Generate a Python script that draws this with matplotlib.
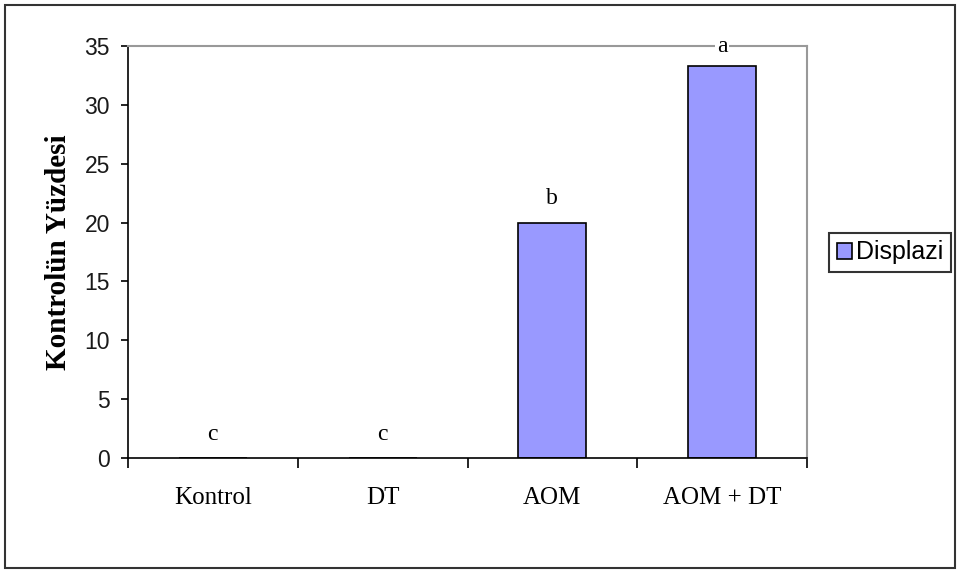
import matplotlib
matplotlib.use("Agg")
import matplotlib.pyplot as plt
from matplotlib.patches import Rectangle

categories = ["Kontrol", "DT", "AOM", "AOM + DT"]
values = [0, 0, 20, 33.3]
letters = ["c", "c", "b", "a"]
series_name = "Displazi"
yticks = [0, 5, 10, 15, 20, 25, 30, 35]

fig = plt.figure(figsize=(9.61, 5.74), dpi=100)
fig.patches.append(Rectangle((5/961, 1-568/574), 950/961, 563/574, transform=fig.transFigure,
                             fill=False, edgecolor="#333333", linewidth=1.5))
ax = fig.add_axes([128/961, 1-458/574, 679/961, 412/574])

x = list(range(len(categories)))
bars = ax.bar(x, values, width=0.4, color="#9999ff", edgecolor="black", linewidth=1.2,
              label=series_name, zorder=3)

ax.set_xlim(-0.5, len(categories) - 0.5)
ax.set_ylim(0, 35)
ax.set_yticks(yticks)
ax.set_yticklabels([str(t) for t in yticks], fontfamily="Liberation Sans", fontsize=16.5, color="#1a1a1a")
ax.tick_params(axis="y", direction="out", length=5, width=1.2, pad=8)

ax.set_xticks([i - 0.5 for i in range(len(categories) + 1)])
ax.set_xticklabels([""] * (len(categories) + 1))
ax.tick_params(axis="x", which="major", direction="out", length=7, width=1.2)
ax.set_xticks(x, minor=True)
ax.set_xticklabels(categories, minor=True, fontfamily="Liberation Serif", fontsize=18)
ax.tick_params(axis="x", which="minor", length=0, pad=21)

for side in ["top", "right"]:
    ax.spines[side].set_color("#999999")
    ax.spines[side].set_linewidth(1.5)
for side in ["left", "bottom"]:
    ax.spines[side].set_color("black")
    ax.spines[side].set_linewidth(1.2)
ax.spines["bottom"].set_zorder(4)

ax.set_ylabel("Kontrolün Yüzdesi", fontfamily="Liberation Serif", fontweight="bold",
              fontsize=21, labelpad=9)

for xi, v, l in zip(x, values, letters):
    t = ax.annotate(l, (xi, v), xytext=(0, 24 if v < 30 else 20), textcoords="offset pixels",
                    ha="center", va="center", fontfamily="Liberation Serif",
                    fontsize=17, zorder=5, annotation_clip=False)
    if v >= 30:
        t.set_bbox(dict(facecolor="white", edgecolor="none", pad=1))

leg = fig.legend(handles=[bars], labels=[series_name], loc="upper left",
                 bbox_to_anchor=(829/961, 1-233/574), frameon=True, fancybox=False,
                 prop={"family": "Liberation Sans", "size": 18}, handlelength=0.6,
                 handleheight=0.6, handletextpad=0.2, borderpad=0.3, borderaxespad=0)
leg.get_frame().set_edgecolor("black")
leg.get_frame().set_linewidth(1.5)

fig.savefig("out.png", dpi=100)
